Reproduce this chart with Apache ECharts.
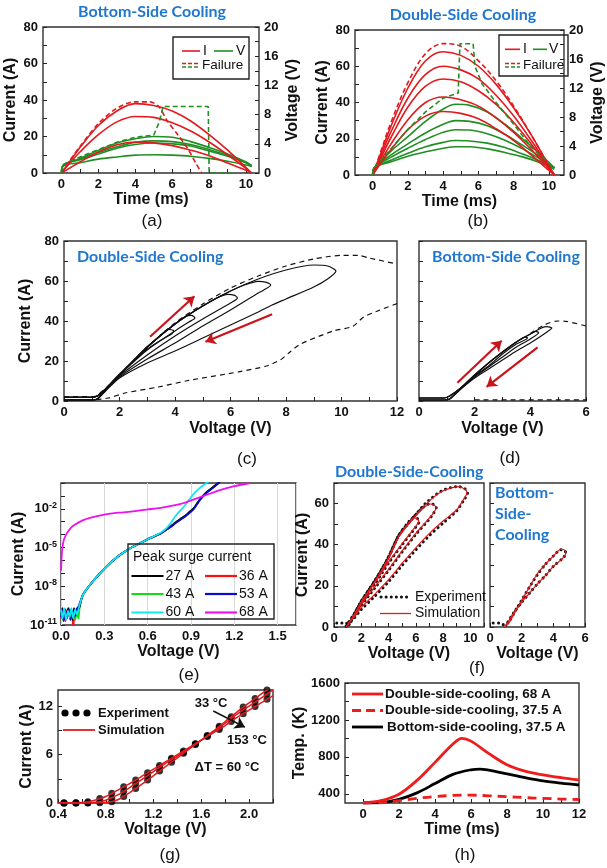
<!DOCTYPE html>
<html><head><meta charset="utf-8">
<script src="https://cdn.jsdelivr.net/npm/echarts@6/dist/echarts.min.js"></script>
<style>html,body{margin:0;padding:0;background:#fff}#c{width:607px;height:868px}</style>
</head><body><div id="c"></div>
<script>
// ---------- (a) Bottom-side cooling: current & voltage vs time ----------
const aTime = [0, 0.5, 1, 2, 3, 4, 5, 6, 7, 8, 9, 10, 10.3];
const aI38 = [0, 7, 14, 26, 34, 38, 37, 34, 28.5, 21, 12.5, 3, 0];
const aI31 = [0, 6, 11.5, 21, 28, 31, 30.5, 27.5, 23, 17, 10, 2.5, 0];
const aI17 = [0, 3, 6, 11.5, 15.5, 17, 16.5, 15, 12.5, 9.5, 5.5, 1.5, 0];
const aVTime = [0, 0.12, 1, 2, 3, 4, 5, 6, 7, 8, 9, 10, 10.3];
const aV50 = [0, 1.1, 2.0, 3.1, 4.1, 4.7, 5.0, 4.9, 4.3, 3.5, 2.6, 1.5, 1.0];
const aV44 = [0, 1.1, 1.9, 2.8, 3.6, 4.2, 4.4, 4.3, 3.9, 3.2, 2.4, 1.4, 1.0];
const aV41 = [0, 1.1, 1.8, 2.6, 3.4, 3.9, 4.1, 4.0, 3.7, 3.0, 2.3, 1.4, 0.9];
const aV25 = [0, 1.0, 1.4, 1.9, 2.2, 2.45, 2.5, 2.45, 2.3, 2.0, 1.6, 1.1, 0.9];
const aFailTimeI = [0, 0.5, 1, 2, 3, 4, 4.8, 5.3, 5.7, 6.3, 6.8, 7.3, 7.6];
const aFailI = [0, 7.5, 14.5, 27, 35.5, 39, 39, 36, 29, 21, 14, 5, 0];
const aFailTimeV = [0, 0.12, 1, 2, 3, 4, 5, 5.3, 5.5, 7.95, 8.0, 9.2];
const aFailV = [0, 1.2, 2.2, 3.2, 4.2, 4.9, 5.2, 7.0, 9.1, 9.1, 0, 0];

// ---------- (b) Double-side cooling ----------
const bTime = [0, 0.5, 1, 2, 3, 4, 5, 6, 7, 8, 9, 10, 10.3];
const bI68 = [0, 13, 26, 48, 63, 68, 66, 60, 50, 37, 22, 5, 0];
const bI60 = [0, 11.5, 23, 42.5, 55.5, 60, 58, 53, 44, 32.5, 19, 4.5, 0];
const bI53 = [0, 10, 20, 37.5, 49, 53, 51.5, 46.5, 39, 29, 17, 4, 0];
const bI43 = [0, 8.5, 16.5, 30.5, 40, 43, 41.5, 38, 31.5, 23.5, 14, 3.5, 0];
const bI35 = [0, 7, 13.5, 25, 32.5, 35, 34, 31, 25.5, 19, 11, 2.5, 0];
const bFailI = [0, 14, 28, 51, 67, 72.5, 71, 63, 52, 38, 22, 5, 0];
const bVTime = [0, 0.1, 1, 2, 3, 4, 4.7, 5.5, 6.5, 7.5, 8.5, 9.5, 10.3];
const bV98 = [0, 1, 3.2, 5.3, 7.4, 9.1, 9.75, 9.6, 8.7, 7.0, 5.0, 2.9, 1.0];
const bV75 = [0, 1, 2.7, 4.3, 5.8, 7.0, 7.5, 7.4, 6.8, 5.6, 4.1, 2.5, 1.0];
const bV63 = [0, 1, 2.4, 3.7, 4.9, 5.9, 6.25, 6.2, 5.7, 4.8, 3.6, 2.2, 1.0];
const bV48 = [0, 1, 2.0, 3.0, 3.9, 4.5, 4.75, 4.7, 4.4, 3.8, 2.9, 1.9, 0.9];
const bV39 = [0, 1, 1.8, 2.6, 3.2, 3.7, 3.9, 3.9, 3.6, 3.1, 2.5, 1.7, 0.8];
const bFailVTime = [0, 0.1, 1, 2, 3, 4, 4.85, 4.95, 5.7, 5.8, 6.2, 7, 8, 9, 10.3];
const bFailV = [0, 1, 3.5, 6.3, 8.7, 10.6, 11.3, 18.1, 18.1, 15, 12.6, 10, 7, 3.8, 1];

// ---------- (c) Double-side cooling I-V loops ----------
const c68V = [0, 1.0, 1.2, 1.5, 2, 3, 4, 5, 6, 7, 8, 9, 9.5, 9.8, 9.5, 9, 8, 7.5, 7, 6, 5, 4, 3, 2, 1.5, 1.2, 1.0, 0];
const c68I = [1.8, 1.8, 2.5, 6, 13, 27, 38.5, 47.5, 55, 61, 65.5, 68, 67.5, 65, 61, 57, 51, 48, 44.5, 38, 31.5, 25, 19, 11.5, 5, 1, 0.5, 0.5];
const c60V = [0, 1.0, 1.2, 1.5, 2, 3, 4, 5, 6, 6.5, 7, 7.3, 7.45, 7.2, 7, 6, 5, 4, 3, 2, 1.5, 1.2, 1.0, 0];
const c60I = [1.8, 1.8, 2.5, 6, 13, 27, 38.5, 47.5, 55, 58, 59.8, 59.3, 58, 55.5, 54, 45.5, 37.5, 29, 21, 12, 5.5, 1, 0.5, 0.5];
const c53V = [0, 1.0, 1.2, 1.5, 2, 3, 4, 5, 5.5, 5.9, 6.15, 6.25, 6, 5, 4, 3, 2, 1.5, 1.2, 1.0, 0];
const c53I = [1.8, 1.8, 2.5, 6, 13, 27, 38.5, 47.5, 51.5, 53.3, 52.8, 51.5, 49, 41, 32.5, 23, 12.5, 5.5, 1, 0.5, 0.5];
const c43V = [0, 1.0, 1.2, 1.5, 2, 3, 4, 4.4, 4.6, 4.72, 4.5, 4, 3, 2, 1.5, 1.2, 1.0, 0];
const c43I = [1.8, 1.8, 2.5, 6, 13, 27, 38.5, 42.5, 42.8, 41.5, 39.5, 35, 25.5, 13, 6, 1, 0.5, 0.5];
const c35V = [0, 1.0, 1.2, 1.5, 2, 3, 3.5, 3.75, 3.95, 3.9, 3.5, 3, 2, 1.5, 1.2, 1.0, 0];
const c35I = [1.8, 1.8, 2.5, 6, 13, 27, 33, 35.8, 35.2, 33.8, 30.5, 26, 13.5, 6, 1, 0.5, 0.5];
const cFailUpV = [0, 1.0, 1.2, 2, 3, 4, 5, 6, 7, 8, 9, 10, 10.6, 11, 12];
const cFailUpI = [2.2, 2.2, 2.8, 13, 27, 39, 48.5, 56.5, 62.5, 67.5, 71, 72.8, 72.8, 71.5, 68.5];
const cFailLoV = [12, 11.3, 10.8, 10.4, 9.7, 8.5, 8.1, 7.8, 7.3, 6.3, 4.5, 3.4, 2.2, 1.6, 1.0, 0];
const cFailLoI = [48.7, 45, 42, 37.3, 35, 28.3, 24, 20.6, 17.5, 14.6, 10.3, 7, 4, 1.5, 0.6, 0.6];

// ---------- (d) Bottom-side cooling I-V loops ----------
const d1V = [0, 0.9, 1.1, 1.5, 2, 2.5, 3, 3.5, 4, 4.4, 4.6, 4.77, 4.6, 4, 3.5, 3, 2.5, 2, 1.5, 1.1, 0.9, 0];
const d1I = [1.5, 1.5, 2.5, 6.5, 13, 19, 24.5, 29.5, 33.5, 36.5, 37.2, 36.5, 34.5, 29, 25, 20.5, 16, 11.5, 6, 1, 0.5, 0.5];
const d2V = [0, 0.9, 1.1, 1.5, 2, 2.5, 3, 3.5, 4, 4.2, 4.3, 4, 3.5, 3, 2.5, 2, 1.5, 1.1, 0.9, 0];
const d2I = [1.5, 1.5, 2.5, 6.5, 13, 19, 24.5, 29.5, 33.5, 34.8, 34.2, 31, 27, 22, 17, 12, 6, 1, 0.5, 0.5];
const d3V = [0, 0.9, 1.1, 1.5, 2, 2.5, 3, 3.5, 3.8, 3.9, 3.5, 3, 2.5, 2, 1.5, 1.1, 0.9, 0];
const d3I = [1.5, 1.5, 2.5, 6.5, 13, 19, 24.5, 29.5, 32, 31.5, 28.5, 23.5, 17.5, 12.5, 6.2, 1, 0.5, 0.5];
const dFailUpV = [4.0, 4.5, 5.0, 5.3, 6];
const dFailUpI = [33.8, 38, 40, 39.8, 37.5];
const dFailLoV = [2, 6];
const dFailLoI = [0.6, 0.6];

// ---------- (e) log10 of current vs voltage ----------
const eV27 = [0, 0.01, 0.02, 0.03, 0.04, 0.05, 0.06, 0.07, 0.08, 0.09, 0.1, 0.11, 0.125, 0.15, 0.2, 0.27, 0.35, 0.41, 0.48, 0.55, 0.62, 0.69, 0.73, 0.76, 0.8, 0.84, 0.87, 0.92, 0.96, 1.0, 1.05, 1.1];
const eL27 = [-10.2, -9.7, -10.6, -9.8, -10.5, -9.7, -10.4, -9.8, -10.6, -9.7, -10.3, -9.8, -9.7, -8.7, -7.9, -7.0, -6.1, -5.55, -5.05, -4.65, -4.25, -3.9, -3.6, -3.35, -3.0, -2.7, -2.45, -1.95, -1.3, -0.8, -0.35, 0.1];
const eV36 = [0, 0.015, 0.03, 0.045, 0.06, 0.075, 0.085, 0.095, 0.11, 0.125, 0.15, 0.2, 0.27, 0.35, 0.41, 0.48, 0.55, 0.62, 0.69, 0.73, 0.76, 0.8, 0.84, 0.87, 0.92, 0.96, 1.0, 1.05, 1.1];
const eL36 = [-10.5, -9.9, -10.7, -9.8, -10.4, -9.9, -11.3, -10.0, -10.2, -9.7, -8.7, -7.9, -7.0, -6.1, -5.55, -5.05, -4.65, -4.25, -3.9, -3.6, -3.35, -3.0, -2.7, -2.45, -1.95, -1.3, -0.8, -0.35, 0.1];
const eV43 = [0, 0.012, 0.025, 0.04, 0.055, 0.07, 0.085, 0.1, 0.11, 0.12, 0.13, 0.15, 0.2, 0.27, 0.35, 0.41, 0.48, 0.55, 0.62, 0.69, 0.73, 0.76, 0.8, 0.84, 0.87, 0.92, 0.96, 1.0, 1.05, 1.1];
const eL43 = [-9.9, -10.6, -9.8, -10.5, -9.7, -10.3, -9.9, -10.6, -9.8, -10.5, -9.6, -8.7, -7.9, -7.0, -6.1, -5.55, -5.05, -4.65, -4.25, -3.9, -3.6, -3.35, -3.0, -2.7, -2.45, -1.95, -1.3, -0.8, -0.35, 0.1];
const eV53 = [0, 0.008, 0.018, 0.028, 0.04, 0.052, 0.065, 0.078, 0.09, 0.105, 0.12, 0.15, 0.2, 0.27, 0.35, 0.41, 0.48, 0.55, 0.62, 0.69, 0.73, 0.76, 0.8, 0.84, 0.87, 0.92, 0.96, 1.0, 1.05, 1.1];
const eL53 = [-10.4, -9.8, -10.7, -9.9, -10.3, -9.8, -10.6, -9.9, -10.4, -9.8, -9.6, -8.7, -7.9, -7.0, -6.1, -5.55, -5.05, -4.65, -4.25, -3.9, -3.6, -3.4, -3.05, -2.75, -2.5, -2.0, -1.35, -0.85, -0.4, 0.05];
const eV60 = [0, 0.01, 0.022, 0.035, 0.048, 0.06, 0.072, 0.085, 0.098, 0.11, 0.125, 0.15, 0.2, 0.27, 0.35, 0.41, 0.48, 0.55, 0.62, 0.69, 0.73, 0.76, 0.79, 0.82, 0.86, 0.9, 0.93, 0.97, 1.02];
const eL60 = [-9.8, -10.5, -9.7, -10.6, -9.9, -10.4, -9.7, -10.5, -9.8, -10.2, -9.6, -8.7, -7.9, -7.0, -6.1, -5.55, -5.05, -4.65, -4.25, -3.85, -3.5, -3.1, -2.6, -2.2, -1.7, -1.1, -0.7, -0.3, 0.1];
const eV68 = [0, 0.005, 0.01, 0.02, 0.04, 0.07, 0.1, 0.15, 0.2, 0.3, 0.4, 0.5, 0.6, 0.7, 0.8, 0.85, 0.9, 1.0, 1.1, 1.2, 1.31];
const eL68 = [-6.8, -5.6, -5.0, -4.4, -3.9, -3.45, -3.2, -2.9, -2.7, -2.45, -2.3, -2.2, -2.05, -1.9, -1.7, -1.55, -1.35, -0.95, -0.55, -0.25, 0.0];
const eLegend = ['27 A', '36 A', '43 A', '53 A', '60 A', '68 A'];
const eColors = ['#000000', '#ff1010', '#11dd11', '#0a0ad0', '#11e6ee', '#ee11ee'];

// ---------- (f) experiment vs simulation loops ----------
const fSim68V = [0.9, 1.5, 2, 2.5, 3, 3.5, 4, 4.75, 5.85, 6.7, 7.9, 9.1, 9.6, 9.75, 9.5, 9, 8, 7, 6, 5, 4, 3, 2, 1.5, 1.0, 0.9];
const fSim68I = [0, 6, 12, 17, 22, 27.5, 33.5, 44, 53, 59.5, 65.9, 68.2, 67, 65.3, 62, 57, 51.5, 45.5, 38.5, 31, 23, 16, 9.5, 5, 1, 0];
const fExp68V = [0.2, 0.9, 1.0, 1.5, 2, 2.5, 3, 3.5, 4, 4.75, 5.85, 6.7, 7.9, 9.1, 9.6, 9.8, 9.5, 9, 8, 7, 6, 5, 4, 3, 2, 1.5, 1.0];
const fExp68I = [2, 2, 0.5, 6.5, 12.5, 17.5, 22.5, 28, 34, 44.5, 53.5, 60, 66.2, 68.3, 67.2, 65, 61.5, 56.5, 50.5, 44.5, 37.5, 30, 22, 15, 8.5, 4.5, 1];
const fSim60V = [0.9, 1.5, 2, 2.5, 3, 3.5, 4, 4.75, 5.85, 6.5, 7.07, 7.35, 7.49, 7.3, 7, 6, 5, 4, 3, 2, 1.5, 1.0, 0.9];
const fSim60I = [0, 6, 12, 17, 22, 27.5, 33.5, 44, 53, 57.5, 59.8, 59.2, 57.9, 55.5, 53, 45.5, 37, 28, 19.5, 11, 5.5, 1, 0];
const fExp60V = [0.9, 1.5, 2, 2.5, 3, 3.5, 4, 4.75, 5.85, 6.5, 7.07, 7.35, 7.5, 7.3, 7, 6, 5, 4, 3, 2, 1.5, 1.0];
const fExp60I = [0.5, 6.5, 12.5, 17.5, 22.5, 28, 34, 44.5, 53.5, 58, 60, 59.4, 58, 55.3, 52.5, 45, 36.5, 27.5, 19, 10.5, 5.2, 1];
const fSim53V = [0.9, 1.5, 2, 2.5, 3, 3.5, 4, 4.75, 5.4, 5.85, 6.1, 6.22, 6, 5, 4, 3, 2, 1.5, 1.0, 0.9];
const fSim53I = [0, 6, 12, 17, 22, 27.5, 33.5, 44, 50, 53, 52.6, 51.4, 49, 40.5, 31.5, 21.5, 12, 6, 1, 0];
const fExp53V = [0.9, 1.5, 2, 2.5, 3, 3.5, 4, 4.75, 5.4, 5.85, 6.1, 6.25, 6, 5, 4, 3, 2, 1.5, 1.0];
const fExp53I = [0.5, 6.5, 12.5, 17.5, 22.5, 28, 34, 44.5, 50.5, 53.3, 52.8, 51.3, 48.6, 40, 31, 21, 11.5, 5.8, 1];
const fbSimV = [0.9, 1.2, 1.5, 2, 2.5, 3, 3.5, 4, 4.47, 4.7, 4.79, 4.6, 4, 3.5, 3, 2.5, 2, 1.5, 1.1, 0.9];
const fbSimI = [0, 2, 6, 13, 19.5, 26, 30.5, 34.5, 37.8, 37.5, 35.9, 33.5, 29.5, 25, 21, 16.5, 12, 7, 2, 0];
const fbExpV = [0.2, 0.6, 0.9, 1.2, 1.5, 2, 2.5, 3, 3.5, 4, 4.45, 4.7, 4.8, 4.6, 4, 3.5, 3, 2.5, 2, 1.5, 1.1];
const fbExpI = [2, 2, 1, 2.5, 6.5, 13, 19.5, 25.5, 30.5, 34.5, 37.5, 37.3, 35.8, 33.5, 29.5, 25, 21, 16.5, 12, 7, 2];

// ---------- (g) temperature-dependent I-V ----------
const gV33 = [0.4, 0.7, 0.8, 0.9, 1.0, 1.1, 1.2, 1.3, 1.4, 1.5, 1.6, 1.7, 1.8, 1.9, 2.0, 2.1, 2.2];
const gI33 = [0, 0, 0.05, 0.4, 1.3, 2.3, 3.4, 4.5, 5.6, 6.7, 7.8, 8.9, 10.1, 11.3, 12.4, 13.5, 14.5];
const gV93 = [0.4, 0.6, 0.7, 0.8, 0.9, 1.0, 1.1, 1.2, 1.3, 1.4, 1.5, 1.6, 1.7, 1.8, 1.9, 2.0, 2.1, 2.2];
const gI93 = [0, 0, 0.05, 0.35, 1.0, 1.9, 2.9, 3.9, 4.9, 5.8, 6.8, 7.8, 8.8, 9.9, 11.0, 12.0, 13.0, 14.0];
const gV153 = [0.4, 0.5, 0.6, 0.7, 0.8, 0.9, 1.0, 1.1, 1.2, 1.3, 1.4, 1.5, 1.6, 1.7, 1.8, 1.9, 2.0, 2.1, 2.2];
const gI153 = [0, 0, 0.05, 0.3, 0.8, 1.6, 2.4, 3.3, 4.2, 5.1, 6.0, 6.9, 7.8, 8.7, 9.6, 10.6, 11.5, 12.4, 13.3];
const gExpV = [0.45, 0.55, 0.65, 0.75, 0.85, 0.95, 1.05, 1.15, 1.25, 1.35, 1.45, 1.55, 1.65, 1.75, 1.85, 1.95, 2.05, 2.15];
const gExp33 = [0, 0, 0, 0.02, 0.15, 0.8, 1.8, 2.85, 3.95, 5.05, 6.15, 7.25, 8.35, 9.5, 10.7, 11.9, 12.95, 14.0];
const gExp93 = [0, 0, 0.02, 0.15, 0.6, 1.45, 2.4, 3.4, 4.4, 5.35, 6.3, 7.3, 8.3, 9.35, 10.45, 11.5, 12.5, 13.5];
const gExp153 = [0, 0.02, 0.15, 0.55, 1.2, 2.0, 2.85, 3.75, 4.65, 5.55, 6.45, 7.35, 8.25, 9.1, 10.1, 11.05, 11.95, 12.85];

// ---------- (h) temperature vs time ----------
const hTime = [0, 1, 2, 3, 4, 5, 5.5, 6, 7, 8, 9, 10, 11, 12];
const hT68 = [300, 325, 395, 545, 740, 940, 1000, 970, 835, 715, 645, 605, 575, 550];
const hTimeBot = [0, 1, 2, 3, 4, 5, 6, 6.5, 7, 8, 9, 10, 11, 12];
const hTBot = [300, 305, 340, 410, 510, 610, 660, 668, 655, 615, 575, 540, 515, 495];
const hTimeD37 = [0, 1, 2, 3, 4, 5, 6, 7, 8, 9, 10, 11, 12];
const hTD37 = [300, 302, 325, 350, 370, 382, 385, 378, 368, 358, 350, 343, 338];
const hLegend = ['Double-side-cooling, 68 A', 'Double-side-cooling, 37.5 A', 'Bottom-side-cooling, 37.5 A'];

// ---------- tick labels ----------
const tA_x = [0, 2, 4, 6, 8, 10], tA_xm = [0,1,2,3,4,5,6,7,8,9,10];
const tA_yL = [0, 20, 40, 60, 80], tA_yLm = [0,10,20,30,40,50,60,70,80];
const tA_yR = [0, 4, 8, 12, 16, 20], tA_yRm = [0,2,4,6,8,10,12,14,16,18,20];
const tC_x = [0, 2, 4, 6, 8, 10, 12], tC_xm = [0,1,2,3,4,5,6,7,8,9,10,11,12];
const tD_x = [0, 2, 4, 6], tD_xm = [0,1,2,3,4,5,6];
const tE_x = [0, 0.3, 0.6, 0.9, 1.2, 1.5];
const tE_y = [-11, -8, -5, -2], tE_ym = [-11,-10,-9,-8,-7,-6,-5,-4,-3,-2,-1,0];
const tF_x = [0, 2, 4, 6, 8, 10], tF_xm = [0,1,2,3,4,5,6,7,8,9,10,11];
const tF_y = [0, 20, 40, 60], tF_ym = [0,10,20,30,40,50,60,70];
const tG_x = [0.4, 0.8, 1.2, 1.6, 2.0], tG_xm = [0.4,0.6,0.8,1.0,1.2,1.4,1.6,1.8,2.0,2.2];
const tG_y = [0, 6, 12], tG_ym = [0,3,6,9,12];
const tH_x = [0, 2, 4, 6, 8, 10, 12], tH_xm = [0,1,2,3,4,5,6,7,8,9,10,11,12];
const tH_y = [400, 800, 1200, 1600], tH_ym = [400,600,800,1000,1200,1400,1600];

// ---------- styling ----------
const FONT = "'Liberation Sans', Arial, sans-serif";
const TFONT = "Lato, 'Open Sans', sans-serif";
const BLUE = '#1f77cf', RED = '#e3191e', GREEN = '#1f8f24', ARROW = '#c8141a', HRED = '#ee1c1c';

const zip = (xs, ys) => xs.map((x, i) => [x, ys[i]]);

function ax(gi, min, max, labels, ticks, name, nameGap, fmt, extra) {
  return Object.assign({
    type: 'value', gridIndex: gi, min: min, max: max,
    name: name || '', nameLocation: 'middle', nameGap: nameGap || 20,
    nameTextStyle: {fontFamily: FONT, fontWeight: 'bold', fontSize: 16, color: '#111'},
    axisLine: {show: false, onZero: false},
    axisTick: {show: true, inside: true, length: 4, customValues: ticks, lineStyle: {color: '#222'}},
    axisLabel: labels ? {show: true, customValues: labels, fontFamily: FONT, fontWeight: 'bold',
      fontSize: 13, color: '#111', margin: 5, formatter: fmt || (v => String(v))} : {show: false},
    splitLine: {show: false}
  }, extra || {});
}
const yx = (gi, min, max, labels, ticks, name, nameGap, fmt, extra) =>
  ax(gi, min, max, labels, ticks, name, nameGap, fmt, Object.assign({nameRotate: 90}, extra || {}));

function ln(name, xi, yi, xs, ys, color, width, extra) {
  return Object.assign({
    type: 'line', name: name, xAxisIndex: xi, yAxisIndex: yi, data: zip(xs, ys),
    symbol: 'none', smooth: 0.35, silent: true, animation: false, clip: true,
    lineStyle: {color: color, width: width}, itemStyle: {color: color}
  }, extra || {});
}
const dash = (extra) => Object.assign({smooth: false}, extra || {});
function arrows(list, color, width) {
  return {silent: true, animation: false, symbol: ['none', 'arrow'], symbolSize: 10,
    label: {show: false}, emphasis: {disabled: true},
    lineStyle: {color: color, width: width, type: 'solid'},
    data: list.map(p => [{coord: p[0]}, {coord: p[1]}])};
}

const grids = [
  {left: 43, top: 27, width: 216, height: 146},   // a
  {left: 355, top: 30, width: 214, height: 145},  // b
  {left: 64, top: 241, width: 333, height: 160},  // c
  {left: 419, top: 241, width: 167, height: 160}, // d
  {left: 61, top: 483, width: 235, height: 142},  // e
  {left: 334, top: 483, width: 150, height: 144}, // f1
  {left: 490, top: 483, width: 95, height: 144},  // f2
  {left: 58, top: 690, width: 215, height: 113},  // g
  {left: 345, top: 683, width: 234, height: 120}  // h
].map(g => Object.assign({show: true, borderColor: '#333', borderWidth: 1.4, backgroundColor: 'transparent', containLabel: false}, g));

const xAxes = [
  ax(0, -1, 10.7, tA_x, tA_xm, 'Time (ms)', 17),
  ax(1, -1, 10.85, tA_x, tA_xm, 'Time (ms)', 17),
  ax(2, 0, 12, tC_x, tC_xm, 'Voltage (V)', 20),
  ax(3, 0, 6, tD_x, tD_xm, 'Voltage (V)', 20),
  ax(4, 0, 1.627, tE_x, null, 'Voltage (V)', 17, v => v.toFixed(1),
     {interval: 0.3, axisTick: {show: false}, splitLine: {show: true, lineStyle: {color: '#d8d8d8', width: 1}}}),
  ax(5, 0, 11, tF_x, tF_xm, 'Voltage (V)', 14),
  ax(6, 0, 6, tD_x, tD_xm, 'Voltage (V)', 14),
  ax(7, 0.4, 2.2, tG_x, tG_xm, 'Voltage (V)', 15, v => v.toFixed(1)),
  ax(8, -1, 12, tH_x, tH_xm, 'Time (ms)', 18)
];
const yAxes = [
  yx(0, 0, 80, tA_yL, tA_yLm, 'Current (A)', 24, null, {position: 'left'}),
  yx(0, 0, 20, tA_yR, tA_yRm, 'Voltage (V)', 26, null, {position: 'right'}),
  yx(1, 0, 80, tA_yL, tA_yLm, 'Current (A)', 24, null, {position: 'left'}),
  yx(1, 0, 20, tA_yR, tA_yRm, 'Voltage (V)', 26, null, {position: 'right'}),
  yx(2, 0, 80, tA_yL, tA_yLm, 'Current (A)', 27),
  yx(3, 0, 80, null, tA_yLm, ''),
  yx(4, -11, 0, tE_y, tE_ym, 'Current (A)', 32, null,
     {axisLabel: {show: true, customValues: tE_y, color: '#111', margin: 4,
       formatter: v => '{b|10}{s|' + v + '}',
       rich: {b: {fontFamily: FONT, fontWeight: 'bold', fontSize: 13, color: '#111'},
              s: {fontFamily: FONT, fontWeight: 'bold', fontSize: 9, color: '#111', verticalAlign: 'top', padding: [0, 0, 7, 0]}}}}),
  yx(5, 0, 70, tF_y, tF_ym, 'Current (A)', 22),
  yx(6, 0, 70, null, tF_ym, ''),
  yx(7, 0, 14, tG_y, tG_ym, 'Current (A)', 16),
  yx(8, 300, 1600, tH_y, tH_ym, 'Temp. (K)', 33)
];

const dotted = {color: '#111', width: 3, type: [0.1, 5], cap: 'round'};
const series = [
  // (a)
  ln('aV50', 0, 1, aVTime, aV50, GREEN, 1.6), ln('aV44', 0, 1, aVTime, aV44, GREEN, 1.6),
  ln('aV41', 0, 1, aVTime, aV41, GREEN, 1.6), ln('aV25', 0, 1, aVTime, aV25, GREEN, 1.6),
  ln('aI38', 0, 0, aTime, aI38, RED, 1.6), ln('aI31', 0, 0, aTime, aI31, RED, 1.6), ln('aI17', 0, 0, aTime, aI17, RED, 1.6),
  ln('aFailI', 0, 0, aFailTimeI, aFailI, RED, 1.6, {smooth: 0.3, lineStyle: {color: RED, width: 1.6, type: [5, 3]}}),
  ln('aFailV', 0, 1, aFailTimeV, aFailV, GREEN, 1.6, dash({lineStyle: {color: GREEN, width: 1.6, type: [5, 3]}})),
  // (b)
  ln('bV98', 1, 3, bVTime, bV98, GREEN, 1.6), ln('bV75', 1, 3, bVTime, bV75, GREEN, 1.6),
  ln('bV63', 1, 3, bVTime, bV63, GREEN, 1.6), ln('bV48', 1, 3, bVTime, bV48, GREEN, 1.6), ln('bV39', 1, 3, bVTime, bV39, GREEN, 1.6),
  ln('bI68', 1, 2, bTime, bI68, RED, 1.6), ln('bI60', 1, 2, bTime, bI60, RED, 1.6), ln('bI53', 1, 2, bTime, bI53, RED, 1.6),
  ln('bI43', 1, 2, bTime, bI43, RED, 1.6), ln('bI35', 1, 2, bTime, bI35, RED, 1.6),
  ln('bFailI', 1, 2, bTime, bFailI, RED, 1.6, {lineStyle: {color: RED, width: 1.6, type: [5, 3]}}),
  ln('bFailV', 1, 3, bFailVTime, bFailV, GREEN, 1.6, dash({lineStyle: {color: GREEN, width: 1.6, type: [5, 3]}})),
  // (c)
  ln('c68', 2, 4, c68V, c68I, '#111', 1.2, {smooth: 0.25, markLine: arrows([[[3.1, 32.1], [4.7, 52.4]], [[7.5, 43.4], [5.1, 29.6]]], ARROW, 2.2)}),
  ln('c60', 2, 4, c60V, c60I, '#111', 1.2, {smooth: 0.25}),
  ln('c53', 2, 4, c53V, c53I, '#111', 1.2, {smooth: 0.25}),
  ln('c43', 2, 4, c43V, c43I, '#111', 1.2, {smooth: 0.25}),
  ln('c35', 2, 4, c35V, c35I, '#111', 1.2, {smooth: 0.25}),
  ln('cFailUp', 2, 4, cFailUpV, cFailUpI, '#111', 1.2, {smooth: 0.25, lineStyle: {color: '#111', width: 1.2, type: [5, 4]}}),
  ln('cFailLo', 2, 4, cFailLoV, cFailLoI, '#111', 1.2, {smooth: 0.25, lineStyle: {color: '#111', width: 1.2, type: [5, 4]}}),
  // (d)
  ln('d1', 3, 5, d1V, d1I, '#111', 1.2, {smooth: 0.25, markLine: arrows([[[1.38, 9.1], [2.97, 30.1]], [[4.26, 26.8], [2.43, 7.1]]], ARROW, 2.2)}),
  ln('d2', 3, 5, d2V, d2I, '#111', 1.2, {smooth: 0.25}),
  ln('d3', 3, 5, d3V, d3I, '#111', 1.2, {smooth: 0.25}),
  ln('dFailUp', 3, 5, dFailUpV, dFailUpI, '#111', 1.2, {smooth: 0.3, lineStyle: {color: '#111', width: 1.2, type: [5, 4]}}),
  ln('dFailLo', 3, 5, dFailLoV, dFailLoI, '#111', 1.2, {lineStyle: {color: '#111', width: 1.2, type: [5, 4]}}),
  // (e)
  ln(eLegend[1], 4, 6, eV36, eL36, eColors[1], 1.8, {smooth: 0.2}),
  ln(eLegend[2], 4, 6, eV43, eL43, eColors[2], 1.8, {smooth: 0.2}),
  ln(eLegend[0], 4, 6, eV27, eL27, eColors[0], 1.8, {smooth: 0.2}),
  ln(eLegend[3], 4, 6, eV53, eL53, eColors[3], 1.8, {smooth: 0.2}),
  ln(eLegend[4], 4, 6, eV60, eL60, eColors[4], 1.8, {smooth: 0.2}),
  ln(eLegend[5], 4, 6, eV68, eL68, eColors[5], 1.8, {smooth: 0.2}),
  // (f)
  ln('fExp68', 5, 7, fExp68V, fExp68I, '#111', 3, {smooth: 0.25, lineStyle: dotted}),
  ln('fExp60', 5, 7, fExp60V, fExp60I, '#111', 3, {smooth: 0.25, lineStyle: dotted}),
  ln('fExp53', 5, 7, fExp53V, fExp53I, '#111', 3, {smooth: 0.25, lineStyle: dotted}),
  ln('fSim68', 5, 7, fSim68V, fSim68I, RED, 1.2, {smooth: 0.25}),
  ln('fSim60', 5, 7, fSim60V, fSim60I, RED, 1.2, {smooth: 0.25}),
  ln('fSim53', 5, 7, fSim53V, fSim53I, RED, 1.2, {smooth: 0.25}),
  ln('fbExp', 6, 8, fbExpV, fbExpI, '#111', 3, {smooth: 0.25, lineStyle: dotted}),
  ln('fbSim', 6, 8, fbSimV, fbSimI, RED, 1.2, {smooth: 0.25}),
  // (g)
  {type: 'scatter', name: 'gE33', xAxisIndex: 7, yAxisIndex: 9, data: zip(gExpV, gExp33), symbol: 'circle', symbolSize: 7, itemStyle: {color: '#000'}, silent: true, animation: false},
  {type: 'scatter', name: 'gE93', xAxisIndex: 7, yAxisIndex: 9, data: zip(gExpV, gExp93), symbol: 'circle', symbolSize: 7, itemStyle: {color: '#000'}, silent: true, animation: false},
  {type: 'scatter', name: 'gE153', xAxisIndex: 7, yAxisIndex: 9, data: zip(gExpV, gExp153), symbol: 'circle', symbolSize: 7, itemStyle: {color: '#000'}, silent: true, animation: false},
  ln('gS33', 7, 9, gV33, gI33, RED, 1.5, {smooth: 0.3}),
  ln('gS93', 7, 9, gV93, gI93, RED, 1.5, {smooth: 0.3}),
  ln('gS153', 7, 9, gV153, gI153, RED, 1.5, {smooth: 0.3, markLine: arrows([[[1.70, 11.4], [1.965, 9.4]]], '#111', 1.6)}),
  // (h)
  ln(hLegend[2], 8, 10, hTimeBot, hTBot, '#000', 2.8),
  ln(hLegend[1], 8, 10, hTimeD37, hTD37, HRED, 2.8, {lineStyle: {color: HRED, width: 2.8, type: [9, 6]}}),
  ln(hLegend[0], 8, 10, hTime, hT68, HRED, 2.8)
];

// ---------- text / legend decorations ----------
const T = (x, y, text, size, weight, fill, align, family) => ({type: 'text', x: x, y: y, silent: true, z: 10,
  style: {text: text, fontSize: size, fontWeight: weight || 'normal', fontFamily: family || FONT, fill: fill || '#111',
    align: align || 'center', verticalAlign: 'middle'}});
const L = (x1, y1, x2, y2, stroke, w, dashArr) => ({type: 'line', silent: true, z: 10,
  shape: {x1: x1, y1: y1, x2: x2, y2: y2}, style: {stroke: stroke, lineWidth: w || 2, lineDash: dashArr || null}});
const R = (x, y, w, h) => ({type: 'rect', silent: true, z: 10, shape: {x: x, y: y, width: w, height: h},
  style: {fill: 'rgba(0,0,0,0)', stroke: '#222', lineWidth: 1.4}});
const C = (cx, cy, r) => ({type: 'circle', silent: true, z: 10, shape: {cx: cx, cy: cy, r: r}, style: {fill: '#000'}});

const TS = 16;
const graphics = [
  // titles
  T(152, 12, 'Bottom-Side Cooling', TS, 'bold', BLUE, 'center', TFONT),
  T(463, 15, 'Double-Side Cooling', TS, 'bold', BLUE, 'center', TFONT),
  T(77, 257, 'Double-Side Cooling', TS, 'bold', BLUE, 'left', TFONT),
  T(432, 257, 'Bottom-Side Cooling', TS, 'bold', BLUE, 'left', TFONT),
  T(335, 472, 'Double-Side-Cooling', TS, 'bold', BLUE, 'left', TFONT),
  T(495, 493, 'Bottom-', TS, 'bold', BLUE, 'left', TFONT),
  T(495, 514, 'Side-', TS, 'bold', BLUE, 'left', TFONT),
  T(495, 535, 'Cooling', TS, 'bold', BLUE, 'left', TFONT),
  // panel labels
  T(152, 221, '(a)', 17), T(478, 221, '(b)', 17), T(247, 459, '(c)', 17), T(510, 458, '(d)', 17),
  T(189, 675, '(e)', 17), T(477, 668, '(f)', 17), T(170, 855, '(g)', 17), T(465, 855, '(h)', 17),
  // legend (a)
  R(173, 37, 76, 42),
  L(182, 51, 200, 51, RED, 1.6), T(203, 51, 'I', 14, 'normal', '#111', 'left'),
  L(214, 51, 233, 51, GREEN, 1.6), T(236, 51, 'V', 14, 'normal', '#111', 'left'),
  L(182, 63.5, 200, 63.5, RED, 1.5, [4, 2]), L(182, 67, 200, 67, GREEN, 1.5, [4, 2]),
  T(202, 65, 'Failure', 13.5, 'normal', '#111', 'left'),
  // legend (b)
  R(499, 35, 69, 41),
  L(505, 49.3, 520, 49.3, RED, 1.6), T(523, 49.3, 'I', 14, 'normal', '#111', 'left'),
  L(533, 49.3, 547, 49.3, GREEN, 1.6), T(549, 49.3, 'V', 14, 'normal', '#111', 'left'),
  L(505, 63.5, 520, 63.5, RED, 1.5, [4, 2]), L(505, 67, 520, 67, GREEN, 1.5, [4, 2]),
  T(523, 65, 'Failure', 13.5, 'normal', '#111', 'left'),
  // legend (e)
  R(128, 544, 146, 75), T(133, 557, 'Peak surge current', 14, 'normal', '#111', 'left'),
  // legend (f)
  {type: 'line', silent: true, z: 10, shape: {x1: 381, y1: 597, x2: 407, y2: 597},
   style: {stroke: '#111', lineWidth: 3, lineDash: [0.1, 5], lineCap: 'round'}},
  T(415, 597, 'Experiment', 14, 'normal', '#111', 'left'),
  L(380, 613.5, 411, 613.5, RED, 1.3), T(415, 613.5, 'Simulation', 14, 'normal', '#111', 'left'),
  // legend (g)
  C(65, 713, 3.6), C(76, 713, 3.6), C(87, 713, 3.6),
  T(98, 713, 'Experiment', 13, 'bold', '#111', 'left'),
  L(63, 730, 95, 730, RED, 1.8), T(98, 730, 'Simulation', 13, 'bold', '#111', 'left'),
  // (g) annotations
  T(211, 703, '33 °C', 13, 'bold'), T(247, 740, '153 °C', 13, 'bold'), T(227, 767, 'ΔT = 60 °C', 13, 'bold'),
  // legend (h)
  L(352, 694, 383, 694, HRED, 2.8), T(385, 694, hLegend[0], 13.5, 'bold', '#111', 'left'),
  L(352, 710.5, 383, 710.5, HRED, 2.8, [9, 5]), T(385, 710.5, hLegend[1], 13.5, 'bold', '#111', 'left'),
  L(352, 727, 383, 727, '#000', 2.8), T(387, 727, hLegend[2], 13.5, 'bold', '#111', 'left')
];
// legend (e) entries: two columns, three rows
const eCol = [131.5, 205], eRow = [576, 594, 612.5];
eLegend.forEach((name, i) => {
  const x = eCol[i % 2], y = eRow[Math.floor(i / 2)];
  graphics.push(L(x, y, x + 32, y, eColors[i], 2.2));
  graphics.push(T(x + 34, y, name, 14, 'normal', '#111', 'left'));
});

const option = {
  animation: false,
  backgroundColor: '#fff',
  grid: grids, xAxis: xAxes, yAxis: yAxes, series: series,
  graphic: graphics
};
const chart = echarts.init(document.getElementById('c'), null, {renderer: 'canvas'});
chart.setOption(option);
</script></body></html>
